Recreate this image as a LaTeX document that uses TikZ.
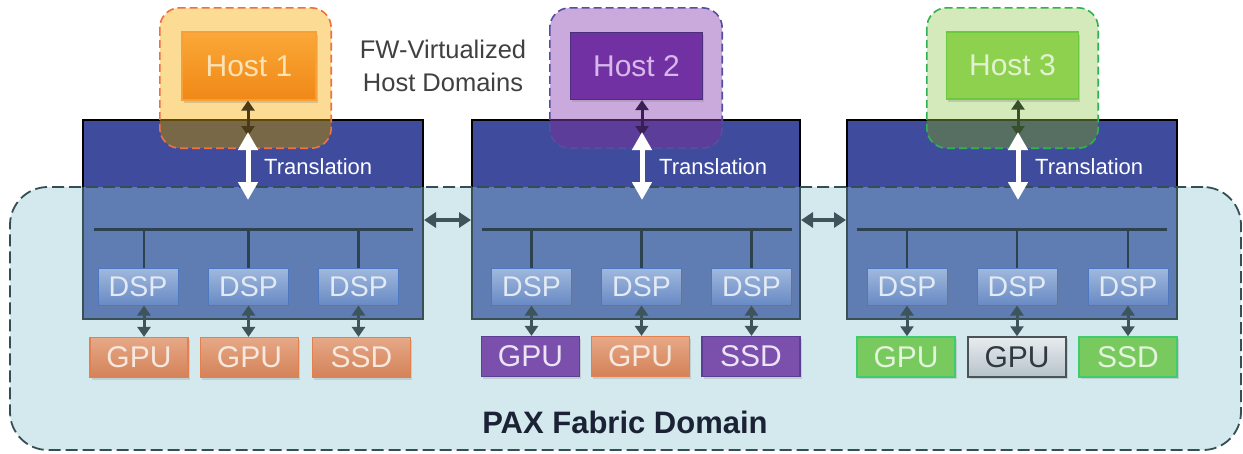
\documentclass[tikz,border=0pt]{standalone}
\usepackage{fontspec}
\setmainfont{Liberation Sans}
\usetikzlibrary{arrows.meta,shadows,calc}

\definecolor{swblue}{RGB}{63,76,158}
\definecolor{fabfill}{RGB}{144,200,210}
\definecolor{fabline}{RGB}{52,78,86}
\definecolor{busline}{RGB}{44,66,78}
\definecolor{slate}{RGB}{60,84,90}
\definecolor{dsptop}{RGB}{160,184,222}
\definecolor{dspbot}{RGB}{104,138,196}
\definecolor{dspline}{RGB}{76,120,192}
\definecolor{dsptext}{RGB}{226,234,244}
\definecolor{ortop}{RGB}{230,168,134}
\definecolor{orbot}{RGB}{212,130,88}
\definecolor{orline}{RGB}{226,128,80}
\definecolor{ortext}{RGB}{246,232,222}
\definecolor{purfill}{RGB}{122,80,172}
\definecolor{purline}{RGB}{92,62,146}
\definecolor{purtext}{RGB}{236,228,244}
\definecolor{grnfill}{RGB}{120,202,94}
\definecolor{grnline}{RGB}{64,204,110}
\definecolor{grntext}{RGB}{228,244,220}
\definecolor{graytop}{RGB}{232,236,239}
\definecolor{graybot}{RGB}{182,194,201}
\definecolor{grayline}{RGB}{74,84,88}
\definecolor{graytext}{RGB}{46,58,64}
% host domains
\definecolor{hdlightA}{RGB}{252,220,148}
\definecolor{hdoverA}{RGB}{161,123,15}
\definecolor{hdlineA}{RGB}{240,112,64}
\definecolor{hdlightB}{RGB}{202,170,220}
\definecolor{hdoverB}{RGB}{112,52,150}
\definecolor{hdlineB}{RGB}{84,80,160}
\definecolor{hdlightC}{RGB}{212,234,186}
\definecolor{hdoverC}{RGB}{104,134,58}
\definecolor{hdlineC}{RGB}{48,178,82}
% host boxes
\definecolor{hAtop}{RGB}{250,168,56}
\definecolor{hAbot}{RGB}{240,136,22}
\definecolor{hAline}{RGB}{246,160,60}
\definecolor{hAtext}{RGB}{252,226,180}
\definecolor{hBfill}{RGB}{113,49,163}
\definecolor{hBline}{RGB}{74,48,122}
\definecolor{hBtext}{RGB}{216,184,234}
\definecolor{hCfill}{RGB}{141,209,79}
\definecolor{hCline}{RGB}{108,200,64}
\definecolor{hCtext}{RGB}{226,242,208}
\definecolor{labelgray}{RGB}{64,64,64}
\definecolor{paxtext}{RGB}{27,34,53}
\definecolor{harrowA}{RGB}{74,58,22}
\definecolor{harrowB}{RGB}{58,31,85}
\definecolor{harrowC}{RGB}{55,80,42}

\tikzset{
  switchbox/.style={draw=black, line width=2pt, fill=swblue, inner sep=0pt},
  hdom/.style={inner sep=0pt, rounded corners=20pt, minimum width=171pt, minimum height=140pt},
  hdash/.style={line width=1.6pt, dash pattern=on 8pt off 4pt, rounded corners=20pt},
  fabric/.style={inner sep=0pt, rounded corners=38pt, fill=fabfill, fill opacity=0.4,
    draw=fabline, draw opacity=1, line width=1.8pt, dash pattern=on 12pt off 5pt},
  bus/.style={busline, line width=3pt},
  drop/.style={busline, line width=2.5pt},
  devbox/.style={inner sep=0pt, minimum width=98pt, minimum height=40pt,
    font=\fontsize{30}{30}\selectfont,
    drop shadow={opacity=0.25, shadow xshift=1.5pt, shadow yshift=-2pt}},
  dspbox/.style={inner sep=0pt, minimum width=80pt, minimum height=37pt,
    top color=dsptop, bottom color=dspbot, draw=dspline, line width=1pt,
    text=dsptext, font=\fontsize{28.5}{28.5}\selectfont,
    drop shadow={opacity=0.25, shadow xshift=1.5pt, shadow yshift=-2pt}},
  orgbox/.style={devbox, top color=ortop, bottom color=orbot, draw=orline, line width=1.2pt, text=ortext},
  purbox/.style={devbox, fill=purfill, draw=purline, line width=1.2pt, text=purtext},
  grnbox/.style={devbox, fill=grnfill, draw=grnline, line width=1.5pt, text=grntext},
  graybox/.style={devbox, top color=graytop, bottom color=graybot, draw=grayline, line width=1.5pt, text=graytext},
  hostbox/.style={inner sep=0pt, minimum width=132pt, minimum height=67pt,
    font=\fontsize{30}{30}\selectfont,
    drop shadow={opacity=0.3, shadow xshift=1.5pt, shadow yshift=-2.5pt}},
  devarrow/.style={slate, line width=3pt, {Triangle[length=10pt,width=13pt]}-{Triangle[length=10pt,width=13pt]}},
  linkarrow/.style={slate, line width=4pt, {Triangle[length=12pt,width=15pt]}-{Triangle[length=12pt,width=15pt]}},
  hostarrow/.style={line width=3pt, {Triangle[length=10pt,width=13pt]}-{Triangle[length=10pt,width=13pt]}},
  transarrow/.style={white, line width=5pt, {Triangle[length=18pt,width=19pt]}-{Triangle[length=18pt,width=19pt]}},
  translabel/.style={white, anchor=west, inner sep=0pt, font=\fontsize{22}{22}\selectfont},
}

\begin{document}
\begin{tikzpicture}[x=1pt,y=-1pt]
\useasboundingbox (0,0) rectangle (1243,453);

% host domain backgrounds
\node[hdom, fill=hdlightA] (hd1) at (245.5,78) {};
\node[hdom, fill=hdlightB, minimum width=172pt] (hd2) at (636,78) {};
\node[hdom, fill=hdlightC] (hd3) at (1012.5,78) {};

% PCIe switches
\node[switchbox, minimum width=340pt, minimum height=199pt] (sw1) at (253,219.5) {};
\node[switchbox, minimum width=328pt, minimum height=199pt] (sw2) at (636,219.5) {};
\node[switchbox, minimum width=330pt, minimum height=199pt] (sw3) at (1012,219.5) {};

% host domains tinting the switch tops
\foreach \d/\s/\c in {hd1/sw1/hdoverA, hd2/sw2/hdoverB, hd3/sw3/hdoverC}{
  \begin{scope}
    \clip (\s.north west) rectangle (\s.south east);
    \fill[\c, opacity=0.6, rounded corners=20pt] (\d.north west) rectangle (\d.south east);
  \end{scope}
}
\draw[hdash, hdlineA] (hd1.north west) rectangle (hd1.south east);
\draw[hdash, hdlineB] (hd2.north west) rectangle (hd2.south east);
\draw[hdash, hdlineC] (hd3.north west) rectangle (hd3.south east);

% fabric domain
\node[fabric, minimum width=1231pt, minimum height=263pt] (fab) at (625.5,318.5) {};
\node[paxtext, font=\bfseries\fontsize{31}{31}\selectfont] (pax) at (625,422) {PAX Fabric Domain};

% internal buses
\coordinate (b1l) at (94,229);  \coordinate (b1r) at (413,229);
\coordinate (b2l) at (482,229); \coordinate (b2r) at (792,229);
\coordinate (b3l) at (857,229); \coordinate (b3r) at (1167,229);
\draw[bus] (b1l) -- (b1r);
\draw[bus] (b2l) -- (b2r);
\draw[bus] (b3l) -- (b3r);

% downstream ports
\node[dspbox] (d11) at (138,286.5) {DSP};
\node[dspbox] (d12) at (248.5,286.5) {DSP};
\node[dspbox] (d13) at (358.5,286.5) {DSP};
\node[dspbox] (d21) at (531.5,286.5) {DSP};
\node[dspbox] (d22) at (641.5,286.5) {DSP};
\node[dspbox] (d23) at (751.5,286.5) {DSP};
\node[dspbox] (d31) at (907,286.5) {DSP};
\node[dspbox] (d32) at (1017,286.5) {DSP};
\node[dspbox] (d33) at (1128,286.5) {DSP};

\draw[drop] ([xshift=6pt]d11.north) -- ([xshift=6pt]d11.north |- b1l);
\foreach \n in {d12,d13}{ \draw[drop] (\n.north) -- (\n.north |- b1l); }
\foreach \n in {d21,d22,d23}{ \draw[drop] (\n.north) -- (\n.north |- b2l); }
\foreach \n in {d31,d32,d33}{ \draw[drop] (\n.north) -- (\n.north |- b3l); }

% endpoint devices
\node[orgbox] (g11) at (139,357.5) {GPU};
\node[orgbox] (g12) at (249.5,357.5) {GPU};
\node[orgbox] (g13) at (361.5,357.5) {SSD};
\node[purbox] (g21) at (530.5,356.5) {GPU};
\node[orgbox] (g22) at (640.5,356.5) {GPU};
\node[purbox] (g23) at (751,356.5) {SSD};
\node[grnbox] (g31) at (906,357) {GPU};
\node[graybox] (g32) at (1017,357) {GPU};
\node[grnbox] (g33) at (1128,357) {SSD};

\draw[devarrow] ([xshift=6pt]d11.south) -- ([xshift=5pt]g11.north);
\foreach \a/\b in {d12/g12,d13/g13,d21/g21,d22/g22,d23/g23,d31/g31,d32/g32,d33/g33}{
  \draw[devarrow] (\a.south) -- (\a.south |- \b.north);
}

% links between switches
\draw[linkarrow] (sw1.east |- 0,220) -- (sw2.west |- 0,220);
\draw[linkarrow] (sw2.east |- 0,220) -- (sw3.west |- 0,220);

% hosts
\node[hostbox, top color=hAtop, bottom color=hAbot, draw=hAline, line width=1.2pt, text=hAtext,
  minimum width=134pt, minimum height=68pt] (h1) at (249,66) {Host 1};
\node[hostbox, fill=hBfill, draw=hBline, line width=1.2pt, text=hBtext] (h2) at (636.5,66) {Host 2};
\node[hostbox, fill=hCfill, draw=hCline, line width=1.2pt, text=hCtext] (h3) at (1012.5,65.5) {Host 3};

% host attach points and translation units
\coordinate (t1a) at (248,132);  \coordinate (t1b) at (248,200);
\coordinate (t2a) at (642,132);  \coordinate (t2b) at (642,200);
\coordinate (t3a) at (1018,132); \coordinate (t3b) at (1018,200);

\draw[hostarrow, draw=harrowA, fill=harrowA] ([xshift=-1pt]h1.south) -- ([yshift=-4pt]t1a);
\draw[hostarrow, draw=harrowB, fill=harrowB] (h2.south -| t2a) -- ([yshift=-4pt]t2a);
\draw[hostarrow, draw=harrowC, fill=harrowC] (h3.south -| t3a) -- ([yshift=-4pt]t3a);

\draw[transarrow] (t1a) -- (t1b);
\draw[transarrow] (t2a) -- (t2b);
\draw[transarrow] (t3a) -- (t3b);
\node[translabel] (tl1) at (264,167) {Translation};
\node[translabel] (tl2) at (659,167) {Translation};
\node[translabel] (tl3) at (1035,167) {Translation};

\node[labelgray, align=center, inner sep=0pt, font=\fontsize{25.5}{33}\selectfont] (fw) at (443,66)
  {FW-Virtualized\\Host Domains};
\end{tikzpicture}
\end{document}
